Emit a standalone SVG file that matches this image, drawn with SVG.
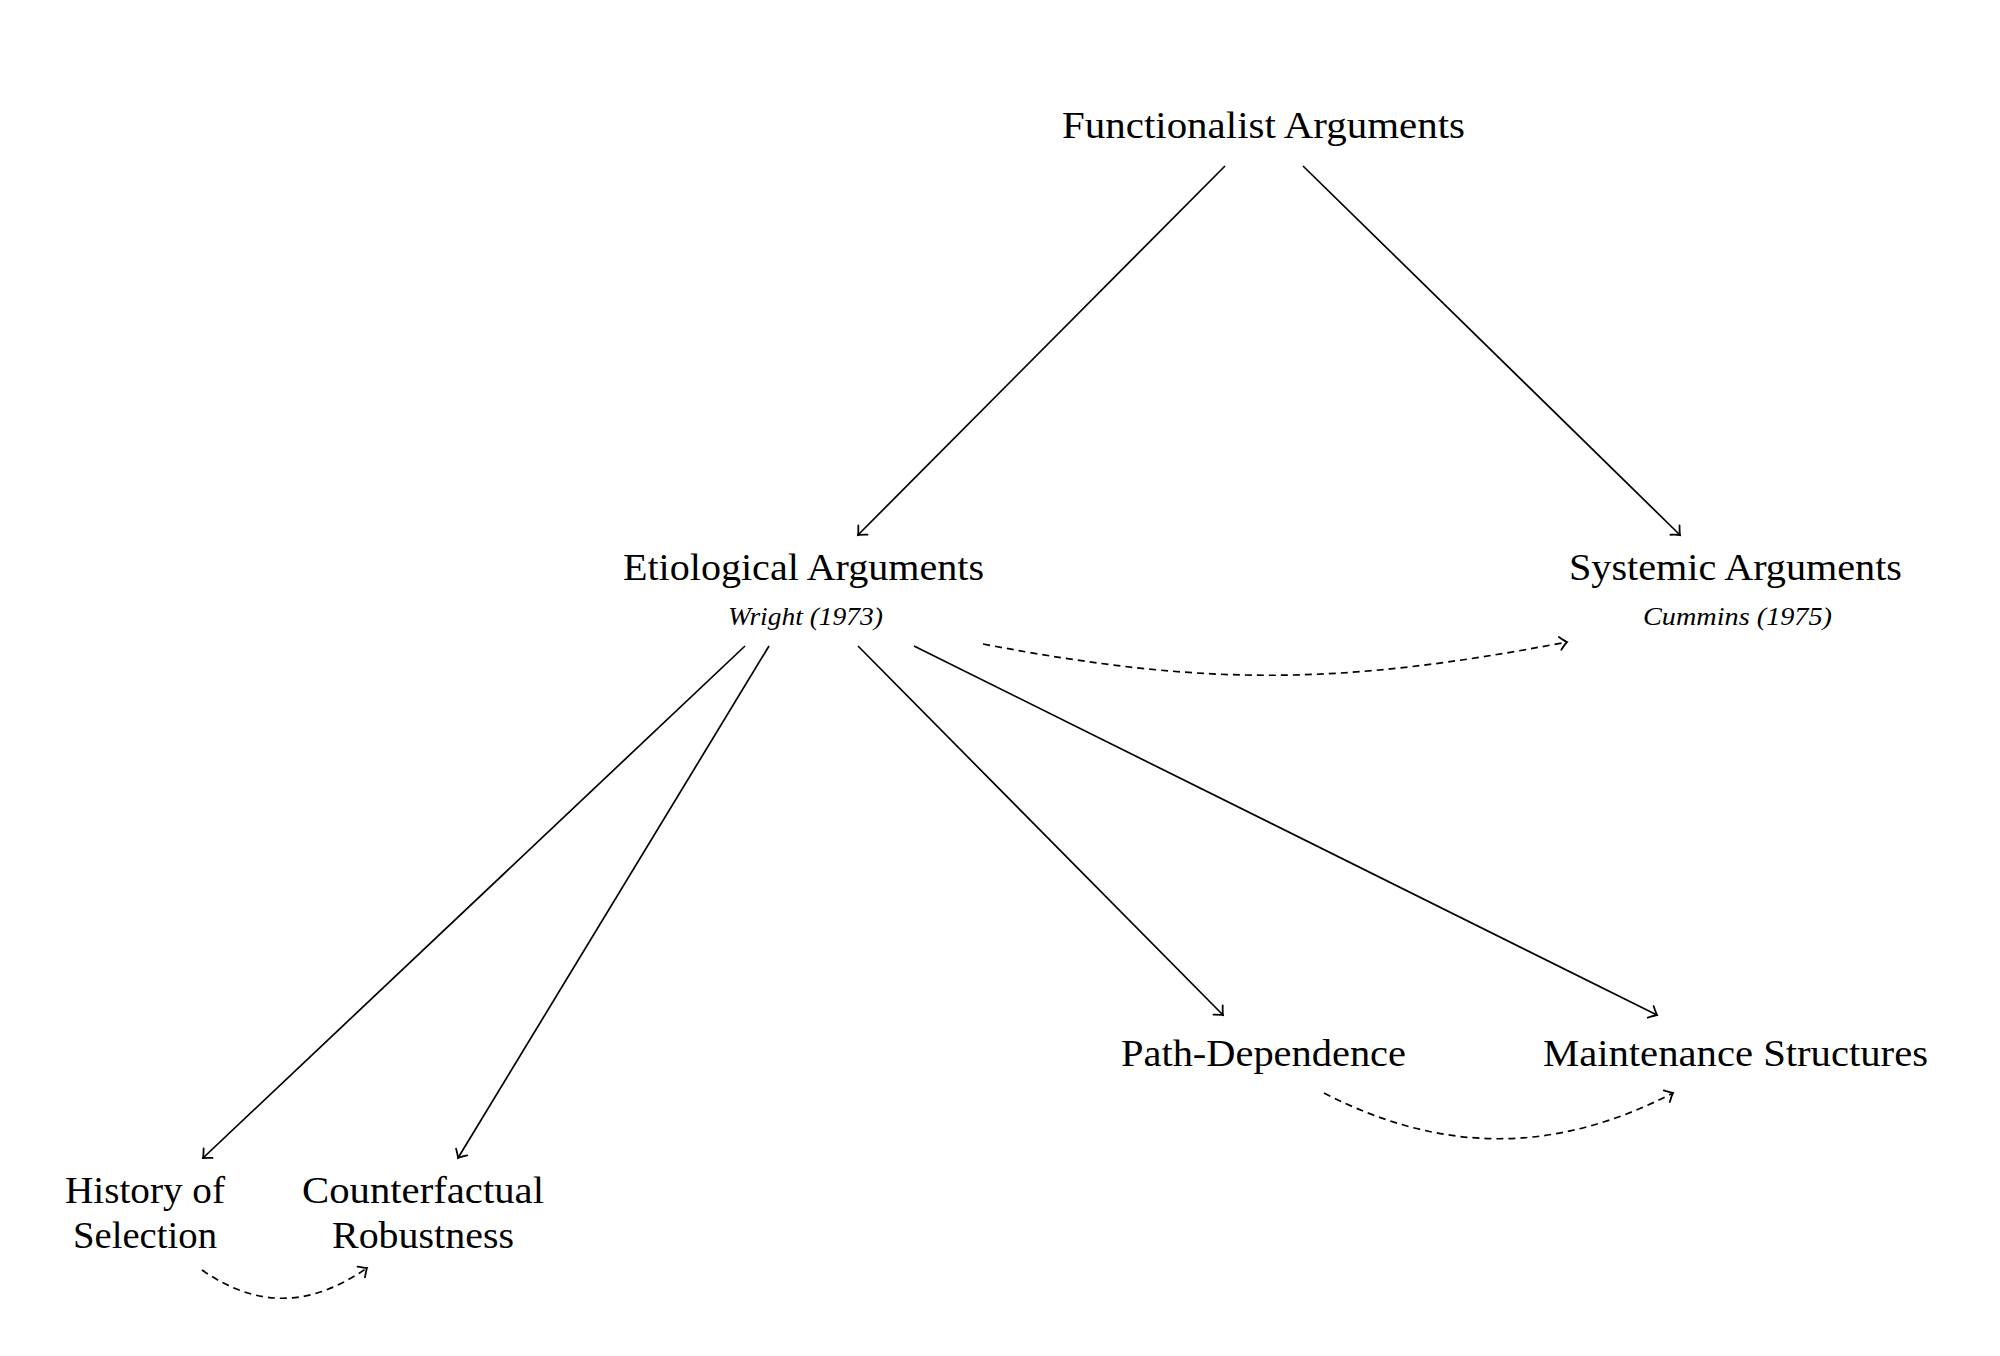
<svg xmlns="http://www.w3.org/2000/svg" width="2000" height="1356" viewBox="0 0 2000 1356">
<style>
.lbl{font-family:"Liberation Serif","Times New Roman",serif;font-size:38px;fill:#000}
.sub{font-family:"Liberation Serif","Times New Roman",serif;font-size:26px;font-style:italic;fill:#000}
.edge{fill:none;stroke:#000;stroke-width:1.7;marker-end:url(#arr)}
.dash{stroke-dasharray:7 5}
</style>
<defs>
<marker id="arr" markerUnits="userSpaceOnUse" markerWidth="18" markerHeight="18" viewBox="-9 -9 18 18" refX="0" refY="0" orient="auto" overflow="visible">
<path d="M -7,-6.5 Q -1.8,-1.2 0,0 Q -1.8,1.2 -7,6.5" fill="none" stroke="#000" stroke-width="1.8" stroke-linecap="round"/>
</marker>
</defs>
<rect width="2000" height="1356" fill="#fff"/>
<g id="connectors">
<path class="edge" d="M1225,166 L858,535"/>
<path class="edge" d="M1303,166 L1680,535"/>
<path class="edge" d="M745,646 L203,1158"/>
<path class="edge" d="M769,646 L458,1158"/>
<path class="edge" d="M858,646 L1223,1015"/>
<path class="edge" d="M914,646 L1657,1015"/>
<path class="edge dash" d="M983,644 C1208,687 1342,685 1567,642"/>
<path class="edge dash" d="M1324,1093 C1442,1154 1555,1154 1673,1093"/>
<path class="edge dash" d="M202,1270 C258,1309 311,1307 367,1268"/>
</g>
<g id="functionalist">
<text class="lbl" x="1062" y="138" textLength="403" lengthAdjust="spacingAndGlyphs">Functionalist Arguments</text>
</g>
<g id="etiological">
<text class="lbl" x="623" y="580" textLength="361" lengthAdjust="spacingAndGlyphs">Etiological Arguments</text>
<text class="sub" x="728" y="625" textLength="155" lengthAdjust="spacingAndGlyphs">Wright (1973)</text>
</g>
<g id="systemic">
<text class="lbl" x="1569" y="580" textLength="333" lengthAdjust="spacingAndGlyphs">Systemic Arguments</text>
<text class="sub" x="1643" y="625" textLength="189" lengthAdjust="spacingAndGlyphs">Cummins (1975)</text>
</g>
<g id="history">
<text class="lbl" x="65" y="1203" textLength="160" lengthAdjust="spacingAndGlyphs">History of</text>
<text class="lbl" x="73" y="1248" textLength="144" lengthAdjust="spacingAndGlyphs">Selection</text>
</g>
<g id="counterfactual">
<text class="lbl" x="302" y="1203" textLength="242" lengthAdjust="spacingAndGlyphs">Counterfactual</text>
<text class="lbl" x="332" y="1248" textLength="182" lengthAdjust="spacingAndGlyphs">Robustness</text>
</g>
<g id="path-dependence">
<text class="lbl" x="1121" y="1066" textLength="285" lengthAdjust="spacingAndGlyphs">Path-Dependence</text>
</g>
<g id="maintenance">
<text class="lbl" x="1543" y="1066" textLength="385" lengthAdjust="spacingAndGlyphs">Maintenance Structures</text>
</g>
</svg>
